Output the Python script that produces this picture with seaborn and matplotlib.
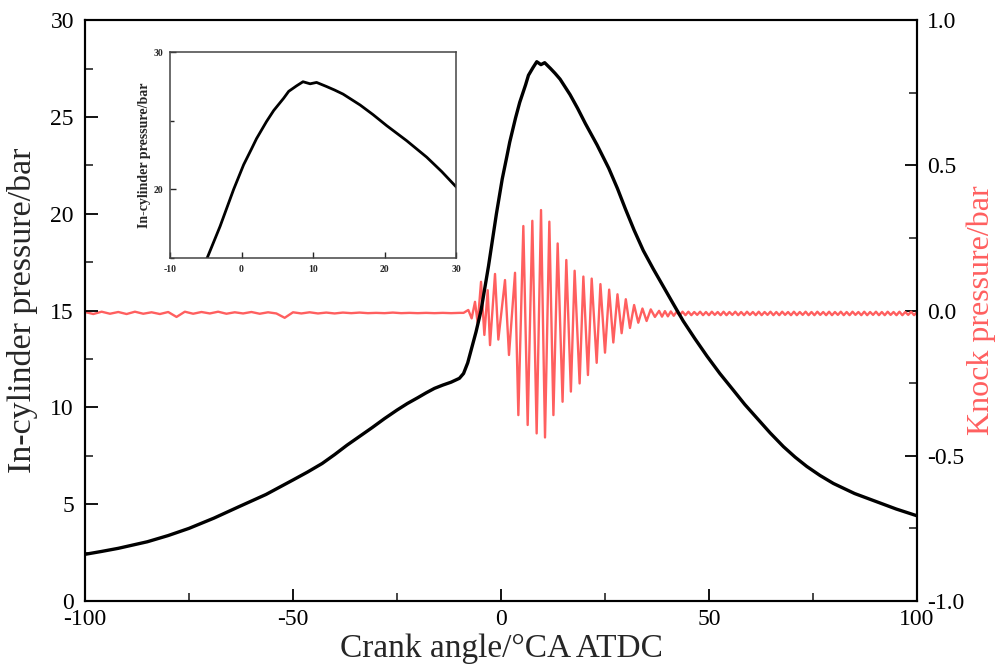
import numpy as np
import pandas as pd
import matplotlib
matplotlib.use("Agg")
import matplotlib.pyplot as plt
import seaborn as sns
from matplotlib.ticker import MultipleLocator, FormatStrFormatter

# ---------------- data ----------------
crank_angle = [-100, -96, -92, -85, -80, -75, -69, -63, -56.5, -50, -46.5, -43, -40, -37,
               -34, -31, -28, -25, -22.5, -20, -18, -16, -14, -12, -10, -9, -8, -7, -6,
               -4.8, -3.0, -1.1, 0.3, 1.4, 2.1, 3.5, 4.5, 5.9, 6.6, 7.7, 8.6, 9.6, 10.5,
               11.9, 13.0, 14.2, 16.6, 18.4, 20.3, 23.1, 25.9, 28.0, 29.9, 32.0, 34.2,
               36.6, 39.0, 41.4, 43.8, 46.6, 49.5, 52.6, 55.8, 58.6, 61.5, 64.7, 67.9,
               70.7, 73.5, 76.7, 79.9, 85, 90, 95, 100]
cyl_pressure = [2.41, 2.56, 2.72, 3.06, 3.38, 3.75, 4.28, 4.87, 5.50, 6.25, 6.66, 7.10,
                7.56, 8.05, 8.50, 8.95, 9.42, 9.86, 10.20, 10.50, 10.75, 10.98, 11.15,
                11.30, 11.50, 11.75, 12.30, 13.10, 13.90, 15.00, 17.30, 20.00, 21.80,
                22.95, 23.70, 24.95, 25.75, 26.65, 27.15, 27.55, 27.85, 27.70, 27.80,
                27.50, 27.25, 26.95, 26.15, 25.45, 24.65, 23.55, 22.35, 21.30, 20.25,
                19.15, 18.10, 17.15, 16.25, 15.35, 14.46, 13.55, 12.65, 11.75, 10.90,
                10.15, 9.45, 8.68, 7.97, 7.43, 6.95, 6.48, 6.07, 5.55, 5.15, 4.75, 4.40]

# knock signal: noise before combustion (every 2 deg from -100 to -10)
pre_angle = list(np.arange(-100, -9, 2))
pre_value = [-0.005, -0.012, -0.004, -0.011, -0.005, -0.012, -0.004, -0.011, -0.006, -0.012,
             -0.005, -0.022, -0.004, -0.011, -0.005, -0.010, -0.004, -0.011, -0.006, -0.010,
             -0.005, -0.011, -0.006, -0.010, -0.025, -0.006, -0.010, -0.006, -0.010, -0.007,
             -0.010, -0.007, -0.009, -0.007, -0.009, -0.008, -0.009, -0.007, -0.009, -0.008,
             -0.009, -0.008, -0.009, -0.008, -0.009, -0.008]

# knock burst extrema
burst_angle = [-9.0, -7.86, -7.05, -6.25, -5.6, -4.8, -4.0, -3.2, -2.64, -1.44, -0.64,
               0.96, 1.92, 3.37, 4.17, 5.37, 6.41, 7.53, 8.57, 9.62, 10.58, 11.62, 12.6,
               13.62, 14.8, 15.7, 16.8, 17.7, 18.9, 19.8, 20.9, 21.8, 23.0, 23.9, 25.0,
               26.0, 27.0, 28.0, 29.0, 30.0, 31.0, 32.0, 33.0, 34.0, 35.0, 36.0, 37.0]
burst_value = [-0.008, 0.002, -0.027, 0.030, -0.044, 0.099, -0.084, 0.070, -0.119, 0.126,
               -0.100, 0.105, -0.153, 0.130, -0.360, 0.291, -0.394, 0.309, -0.423, 0.346,
               -0.437, 0.306, -0.360, 0.231, -0.314, 0.174, -0.279, 0.137, -0.251, 0.117,
               -0.222, 0.110, -0.180, 0.091, -0.145, 0.072, -0.110, 0.056, -0.078, 0.039,
               -0.060, 0.019, -0.042, 0.007, -0.036, 0.004, -0.022]

# residual ripple after the burst (38 to 100 deg)
ripple_value = [-0.001, -0.021, -0.002, -0.020, -0.003, -0.018, -0.004, -0.017, -0.004, -0.016,
                -0.004, -0.016, -0.005, -0.015, -0.004, -0.016, -0.005, -0.016, -0.004, -0.015,
                -0.005, -0.016, -0.004, -0.016, -0.005, -0.015, -0.004, -0.016, -0.005, -0.016,
                -0.004, -0.015, -0.005, -0.016, -0.004, -0.016, -0.005, -0.015, -0.004, -0.016,
                -0.005, -0.016, -0.004, -0.015, -0.005, -0.016, -0.004, -0.016, -0.005, -0.015,
                -0.004, -0.016, -0.005, -0.016, -0.004, -0.015, -0.005, -0.016, -0.004, -0.016,
                -0.005, -0.015, -0.004, -0.016, -0.005, -0.016, -0.004, -0.015, -0.005, -0.016,
                -0.004, -0.016, -0.005, -0.015, -0.004, -0.016, -0.005, -0.016, -0.004, -0.015,
                -0.005, -0.016, -0.004, -0.016, -0.005, -0.015, -0.004, -0.016, -0.005]
ripple_angle = list(np.linspace(38, 100, len(ripple_value)))

knock_angle = pre_angle + burst_angle + ripple_angle
knock_value = pre_value + burst_value + ripple_value

df_p = pd.DataFrame({"angle": crank_angle, "p": cyl_pressure})
df_k = pd.DataFrame({"angle": knock_angle, "k": knock_value})

# ---------------- style ----------------
sns.set_style("ticks")
plt.rcParams["font.family"] = ["Liberation Serif", "DejaVu Serif"]
plt.rcParams["axes.unicode_minus"] = False

RED = "#FF5F5F"

fig = plt.figure(figsize=(10, 6.7), dpi=100)
ax = fig.add_axes([0.085, 0.103, 0.832, 0.867])
ax2 = ax.twinx()

sns.lineplot(data=df_k, x="angle", y="k", ax=ax2, color=RED, lw=1.7,
             estimator=None, sort=False)
sns.lineplot(data=df_p, x="angle", y="p", ax=ax, color="black", lw=2.4,
             estimator=None, sort=False)
ax.set_zorder(ax2.get_zorder() + 1)
ax.patch.set_visible(False)

ax.set_xlim(-100, 100)
ax.set_ylim(0, 30)
ax2.set_ylim(-1, 1)

ax.xaxis.set_major_locator(MultipleLocator(50))
ax.xaxis.set_minor_locator(MultipleLocator(25))
ax.yaxis.set_major_locator(MultipleLocator(5))
ax.yaxis.set_minor_locator(MultipleLocator(2.5))
ax2.yaxis.set_major_locator(MultipleLocator(0.5))
ax2.yaxis.set_minor_locator(MultipleLocator(0.25))
ax2.yaxis.set_major_formatter(FormatStrFormatter("%.1f"))

for a in (ax, ax2):
    a.tick_params(which="major", direction="in", length=9, width=1.3, labelsize=17,
                  colors="black")
    a.tick_params(which="minor", direction="in", length=6, width=1.2)
    for s in a.spines.values():
        s.set_linewidth(1.5)
        s.set_color("black")
ax.tick_params(axis="y", which="both", right=False)
ax.tick_params(axis="x", which="both", top=False)
ax.tick_params(axis="x", pad=6)
ax.tick_params(axis="y", pad=8)
ax2.tick_params(axis="y", pad=7)

ax.set_xlabel("Crank angle/°CA ATDC", fontsize=24, labelpad=2)
ax.set_ylabel("In-cylinder pressure/bar", fontsize=24.5, labelpad=9)
ax2.set_ylabel("Knock pressure/bar", fontsize=23, color=RED, labelpad=2)

# ---------------- inset ----------------
axin = fig.add_axes([0.170, 0.615, 0.286, 0.307])
axin.set_zorder(10)
axin.set_facecolor("white")
sns.lineplot(data=df_p, x="angle", y="p", ax=axin, color="black", lw=2.0,
             estimator=None, sort=False)
axin.set_xlim(-10, 30)
axin.set_ylim(15, 30)
axin.xaxis.set_major_locator(MultipleLocator(10))
axin.yaxis.set_major_locator(MultipleLocator(10))
axin.yaxis.set_minor_locator(MultipleLocator(5))
axin.tick_params(which="major", direction="in", length=4, width=1.0, labelsize=7, pad=5)
axin.tick_params(which="minor", direction="in", length=3, width=1.0)
for lab in axin.get_xticklabels() + axin.get_yticklabels():
    lab.set_fontweight("bold")
for s in axin.spines.values():
    s.set_linewidth(1.1)
    s.set_color("#444444")
axin.set_xlabel("")
axin.set_ylabel("In-cylinder pressure/bar", fontsize=10, fontweight="bold", labelpad=2)

fig.savefig("out.png", dpi=100)
